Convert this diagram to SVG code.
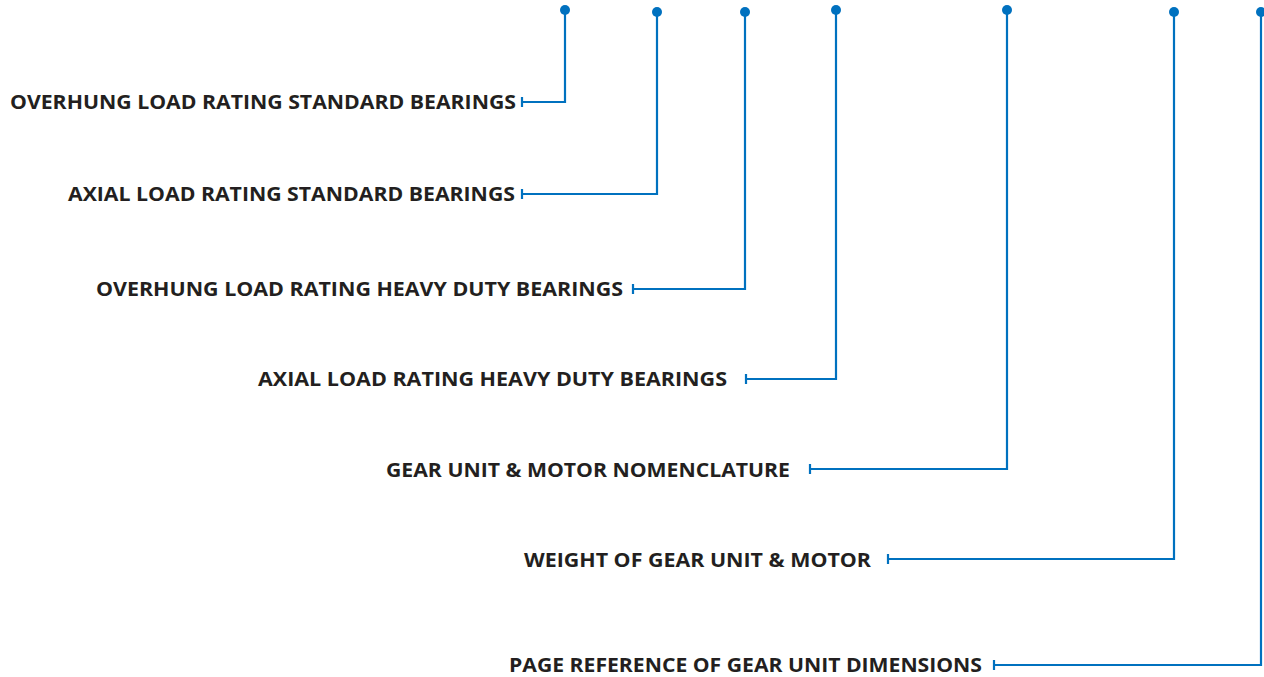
<svg xmlns="http://www.w3.org/2000/svg" width="1264" height="677" viewBox="0 0 1264 677">
<style>
.t{font-family:"Open Sans","Liberation Sans",sans-serif;font-weight:bold;font-size:20px;fill:#231f20;text-anchor:end}
.c{fill:none;stroke:#0071bf;stroke-width:2.2}
.d{fill:#0071bf}
</style>
<rect width="1264" height="677" fill="#fff"/>
<g id="connectors">
<path class="c" d="M565,10V102H522M522,97V107"/>
<path class="c" d="M657,12V194H522M522,189V199"/>
<path class="c" d="M745,12V289H633M633,284V294"/>
<path class="c" d="M836,10V379H746M746,374V384"/>
<path class="c" d="M1007,10V469H810M810,464V474"/>
<path class="c" d="M1174,12V559H888M888,554V564"/>
<path class="c" d="M1261,12V665H994M994,660V670"/>
<circle class="d" cx="565" cy="10" r="5"/>
<circle class="d" cx="657" cy="12" r="5"/>
<circle class="d" cx="745" cy="12" r="5"/>
<circle class="d" cx="836" cy="10" r="5"/>
<circle class="d" cx="1007" cy="10" r="5"/>
<circle class="d" cx="1174" cy="12" r="5"/>
<circle class="d" cx="1261" cy="12" r="5"/>
</g>
<g id="n1"><text class="t" x="516" y="109" textLength="506" lengthAdjust="spacingAndGlyphs">OVERHUNG LOAD RATING STANDARD BEARINGS</text></g>
<g id="n2"><text class="t" x="515" y="201" textLength="447" lengthAdjust="spacingAndGlyphs">AXIAL LOAD RATING STANDARD BEARINGS</text></g>
<g id="n3"><text class="t" x="623" y="296" textLength="527" lengthAdjust="spacingAndGlyphs">OVERHUNG LOAD RATING HEAVY DUTY BEARINGS</text></g>
<g id="n4"><text class="t" x="727" y="386" textLength="469" lengthAdjust="spacingAndGlyphs">AXIAL LOAD RATING HEAVY DUTY BEARINGS</text></g>
<g id="n5"><text class="t" x="790" y="477" textLength="404" lengthAdjust="spacingAndGlyphs">GEAR UNIT &amp; MOTOR NOMENCLATURE</text></g>
<g id="n6"><text class="t" x="871" y="567" textLength="347" lengthAdjust="spacingAndGlyphs">WEIGHT OF GEAR UNIT &amp; MOTOR</text></g>
<g id="n7"><text class="t" x="982" y="672" textLength="473" lengthAdjust="spacingAndGlyphs">PAGE REFERENCE OF GEAR UNIT DIMENSIONS</text></g>
</svg>
